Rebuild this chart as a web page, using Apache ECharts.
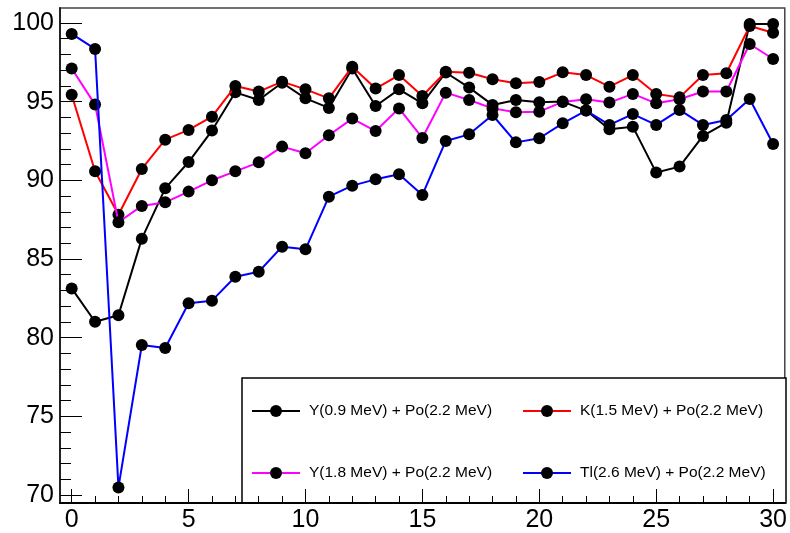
<!DOCTYPE html>
<html>
<head>
<meta charset="utf-8">
<script src="https://cdn.jsdelivr.net/npm/echarts@6/dist/echarts.min.js"></script>
<style>
html,body{margin:0;padding:0;background:#fff;}
#chart{width:790px;height:533px;}
</style>
</head>
<body>
<div id="chart"></div>
<script>
var xValues = [0,1,2,3,4,5,6,7,8,9,10,11,12,13,14,15,16,17,18,19,20,21,22,23,24,25,26,27,28,29,30];
var names = ["Y(0.9 MeV) + Po(2.2 MeV)", "K(1.5 MeV) + Po(2.2 MeV)", "Y(1.8 MeV) + Po(2.2 MeV)", "Tl(2.6 MeV) + Po(2.2 MeV)"];
var yBlack = [83.13, 81.01, 81.42, 86.29, 89.49, 91.16, 93.16, 95.59, 95.10, 96.20, 95.21, 94.60, 97.10, 94.72, 95.78, 94.89, 96.85, 95.89, 94.79, 95.10, 94.96, 95.00, 94.43, 93.24, 93.41, 90.49, 90.87, 92.82, 93.66, 99.94, 99.94];
var yRed = [95.44, 90.57, 87.81, 90.72, 92.58, 93.20, 94.04, 95.99, 95.64, 96.27, 95.78, 95.21, 97.22, 95.83, 96.69, 95.36, 96.90, 96.84, 96.42, 96.17, 96.25, 96.86, 96.69, 95.95, 96.69, 95.49, 95.27, 96.69, 96.80, 99.81, 99.38];
var yMagenta = [97.10, 94.81, 87.33, 88.37, 88.60, 89.28, 90.00, 90.57, 91.14, 92.14, 91.72, 92.86, 93.92, 93.13, 94.57, 92.69, 95.57, 95.10, 94.57, 94.32, 94.36, 94.98, 95.15, 94.94, 95.49, 94.89, 95.15, 95.64, 95.64, 98.66, 97.71];
var yBlue = [99.30, 98.35, 70.48, 79.53, 79.34, 82.18, 82.35, 83.87, 84.19, 85.78, 85.61, 88.96, 89.66, 90.06, 90.38, 89.07, 92.50, 92.92, 94.15, 92.41, 92.67, 93.62, 94.43, 93.52, 94.21, 93.52, 94.47, 93.52, 93.83, 95.17, 92.31];
var xMajorTicks = [0,5,10,15,20,25,30];
var xMinorTicks = [1,2,3,4,6,7,8,9,11,12,13,14,16,17,18,19,21,22,23,24,26,27,28,29];
var yMajorTicks = [70,75,80,85,90,95,100];
var yMinorTicks = [71,72,73,74,76,77,78,79,81,82,83,84,86,87,88,89,91,92,93,94,96,97,98,99];

var colors = ['#000000', '#ff0000', '#ff00ff', '#0000ff'];
var seriesY = [yBlack, yRed, yMagenta, yBlue];
var FONT = "'Liberation Sans', Arial, sans-serif";

function pairs(ys){ return xValues.map(function(x,i){ return [x, ys[i]]; }); }

var series = seriesY.map(function(ys, k){
  return {
    name: names[k], type: 'line', data: pairs(ys),
    xAxisIndex: 0, yAxisIndex: 0,
    symbol: 'circle', symbolSize: 12,
    lineStyle: {color: colors[k], width: 2},
    itemStyle: {color: '#000'},
    animation: false, z: 2 + k*0.01
  };
});

var chart = echarts.init(document.getElementById('chart'), null, {renderer: 'canvas'});
chart.setOption({
  backgroundColor: '#fff',
  animation: false,
  grid: {left: 60, right: 4, top: 8, bottom: 30, show: true, borderColor: '#444', borderWidth: 1.5, backgroundColor: 'transparent'},
  xAxis: [
    {type: 'value', min: -0.5, max: 30.5, position: 'bottom', z: 10,
     axisLine: {show: true, onZero: false, lineStyle: {color: '#000', width: 2}},
     axisTick: {show: true, inside: true, length: 14, customValues: xMajorTicks, lineStyle: {color: '#000', width: 1}},
     axisLabel: {show: true, customValues: xMajorTicks, fontSize: 25, color: '#000', fontFamily: FONT, margin: 5},
     splitLine: {show: false}},
    {type: 'value', min: -0.5, max: 30.5, position: 'bottom', z: 10,
     axisLine: {show: false, onZero: false},
     axisTick: {show: true, inside: true, length: 7, customValues: xMinorTicks, lineStyle: {color: '#000', width: 1}},
     axisLabel: {show: false},
     splitLine: {show: false}}
  ],
  yAxis: [
    {type: 'value', min: 69.49, max: 100.95, position: 'left', z: 10,
     axisLine: {show: true, onZero: false, lineStyle: {color: '#222', width: 2}},
     axisTick: {show: true, inside: true, length: 22, customValues: yMajorTicks, lineStyle: {color: '#000', width: 1}},
     axisLabel: {show: true, customValues: yMajorTicks, fontSize: 25, color: '#000', fontFamily: FONT, margin: 6},
     splitLine: {show: false}},
    {type: 'value', min: 69.49, max: 100.95, position: 'left', z: 10,
     axisLine: {show: false, onZero: false},
     axisTick: {show: true, inside: true, length: 11, customValues: yMinorTicks, lineStyle: {color: '#000', width: 1}},
     axisLabel: {show: false},
     splitLine: {show: false}}
  ],
  graphic: [{type: 'rect', shape: {x: 242, y: 378, width: 544, height: 125}, style: {fill: '#fff', stroke: '#000', lineWidth: 1.5}, z: 5}],
  legend: [
    {data: [names[0], names[2]], orient: 'vertical', left: 251, top: 403, padding: 0,
     itemWidth: 48, itemHeight: 15, itemGap: 46, z: 6,
     textStyle: {fontSize: 15.5, color: '#000', fontFamily: FONT, lineHeight: 15, padding: [0,0,0,4]}},
    {data: [names[1], names[3]], orient: 'vertical', left: 522, top: 403, padding: 0,
     itemWidth: 48, itemHeight: 15, itemGap: 46, z: 6,
     textStyle: {fontSize: 15.5, color: '#000', fontFamily: FONT, lineHeight: 15, padding: [0,0,0,4]}}
  ],
  series: series
});
</script>
</body>
</html>
